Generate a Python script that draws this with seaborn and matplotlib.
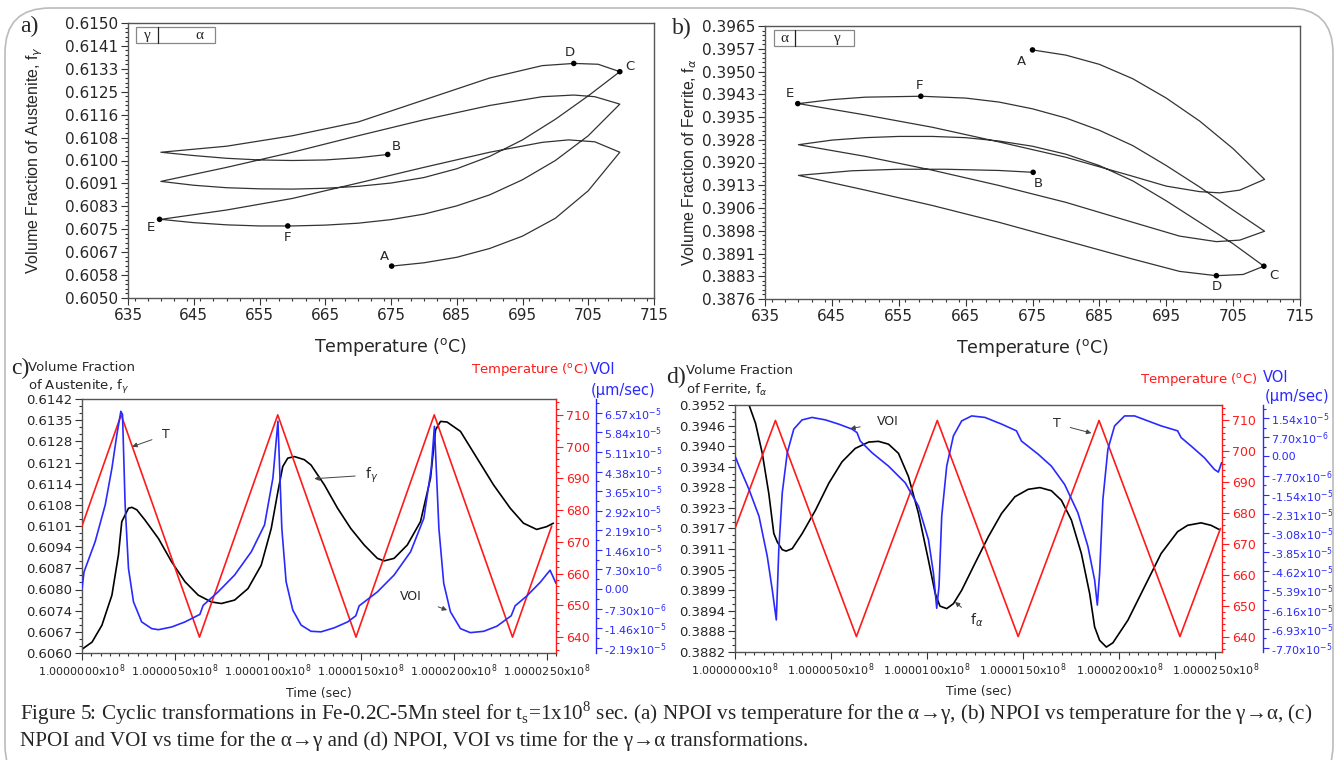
import numpy as np
import pandas as pd
import seaborn as sns
import matplotlib.pyplot as plt
from matplotlib.ticker import MultipleLocator, AutoMinorLocator
from matplotlib.patches import FancyBboxPatch, Rectangle

# ---------------- panel a : f_gamma vs temperature (one list pair per half cycle)
a_heat1_T = [675.1, 680, 685, 690, 695, 700, 705, 709.8]
a_heat1_f = [0.60616, 0.60628, 0.60648, 0.60680, 0.60725, 0.60790, 0.60890, 0.61030]
a_cool1_T = [709.8, 706, 702, 698, 690, 680, 670, 660, 650, 640]
a_cool1_f = [0.61030, 0.61068, 0.61075, 0.61066, 0.61030, 0.60975, 0.60918, 0.60862, 0.60820, 0.60786]
a_heat2_T = [640, 645, 650, 655, 660, 665, 670, 675, 680, 685, 690, 695, 700, 705, 709.8]
a_heat2_f = [0.60786, 0.60774, 0.60766, 0.60762, 0.60762, 0.60765, 0.60772, 0.60785, 0.60805,
             0.60835, 0.60875, 0.60930, 0.61000, 0.61090, 0.61205]
a_cool2_T = [709.8, 706, 702.8, 698, 690, 680, 670, 660, 650, 640]
a_cool2_f = [0.61205, 0.61232, 0.61238, 0.61232, 0.61200, 0.61148, 0.61090, 0.61030, 0.60975, 0.60924]
a_heat3_T = [640, 645, 650, 655, 660, 665, 670, 675, 680, 685, 690, 695, 700, 705, 709.8]
a_heat3_f = [0.60924, 0.60910, 0.60901, 0.60897, 0.60896, 0.60899, 0.60906, 0.60918, 0.60938,
             0.60970, 0.61015, 0.61075, 0.61150, 0.61235, 0.61323]
a_cool3_T = [709.8, 706.5, 702.8, 698, 690, 680, 670, 660, 650, 640]
a_cool3_f = [0.61323, 0.61350, 0.61353, 0.61345, 0.61300, 0.61220, 0.61140, 0.61090, 0.61052, 0.61030]
a_heat4_T = [640, 645, 650, 655, 660, 665, 670, 674.5]
a_heat4_f = [0.61030, 0.61018, 0.61008, 0.61002, 0.61000, 0.61002, 0.61010, 0.61022]
a_pt_name = ['A', 'B', 'C', 'D', 'E', 'F']
a_pt_T = [675.1, 674.5, 709.8, 702.8, 639.8, 659.3]
a_pt_f = [0.60616, 0.61022, 0.61323, 0.61353, 0.60786, 0.60762]
a_ytick_lab = ['0.6050', '0.6058', '0.6067', '0.6075', '0.6083', '0.6091', '0.6100',
               '0.6108', '0.6116', '0.6125', '0.6133', '0.6141', '0.6150']

# ---------------- panel b : f_alpha vs temperature
b_heat1_T = [675, 680, 685, 690, 695, 700, 705, 709.7]
b_heat1_f = [0.39572, 0.39555, 0.39525, 0.39478, 0.39415, 0.39340, 0.39250, 0.39150]
b_cool1_T = [709.7, 706, 703, 700, 695, 690, 680, 670, 660, 650, 640]
b_cool1_f = [0.39150, 0.39115, 0.39106, 0.39110, 0.39128, 0.39160, 0.39222, 0.39272, 0.39320, 0.39360, 0.39397]
b_heat2_T = [640, 645, 650, 658.3, 665, 670, 675, 680, 685, 690, 695, 700, 705, 709.7]
b_heat2_f = [0.39397, 0.39410, 0.39418, 0.39421, 0.39415, 0.39402, 0.39380, 0.39350, 0.39310,
             0.39260, 0.39195, 0.39125, 0.39050, 0.38981]
b_cool2_T = [709.7, 706, 702.5, 697, 690, 680, 670, 660, 650, 640]
b_cool2_f = [0.38981, 0.38952, 0.38947, 0.38965, 0.39010, 0.39075, 0.39130, 0.39180, 0.39225, 0.39263]
b_heat3_T = [640, 645, 650, 655, 660, 665, 670, 675, 680, 685, 690, 695, 700, 705, 709.6]
b_heat3_f = [0.39263, 0.39278, 0.39286, 0.39290, 0.39290, 0.39286, 0.39275, 0.39258, 0.39232,
             0.39195, 0.39145, 0.39080, 0.39010, 0.38940, 0.38867]
b_cool3_T = [709.6, 706.5, 702.5, 697, 690, 680, 670, 660, 650, 640]
b_cool3_f = [0.38867, 0.38840, 0.38836, 0.38850, 0.38890, 0.38950, 0.39010, 0.39065, 0.39115, 0.39163]
b_heat4_T = [640, 648, 655, 662, 670, 675.1]
b_heat4_f = [0.39163, 0.39178, 0.39183, 0.39183, 0.39179, 0.39173]
b_pt_name = ['A', 'B', 'C', 'D', 'E', 'F']
b_pt_T = [675.0, 675.1, 709.6, 702.5, 639.9, 658.3]
b_pt_f = [0.39572, 0.39173, 0.38867, 0.38836, 0.39397, 0.39421]
b_ytick_lab = ['0.3876', '0.3883', '0.3891', '0.3898', '0.3906', '0.3913', '0.3920',
               '0.3928', '0.3935', '0.3943', '0.3950', '0.3957', '0.3965']

# ---------------- panels c, d : time series (time = offset in units of 1e-7 x 1e8 s)
temp_time = [0, 21.05, 63.2, 105.3, 147.4, 189.5, 231.6, 252.7]
temp_vals = [675, 710, 640, 710, 640, 710, 640, 675]

c_time_f = [0, 5.4, 10.7, 16.1, 19.6, 21.4, 25.0, 26.8, 29.5, 33.9, 41.1, 48.2, 55.4, 62.5, 69.6, 75.0,
            82.1, 89.3, 96.4, 101.8, 105.4, 108.0, 110.7, 114.3, 119.6, 123.2, 130.4, 137.5, 144.6,
            151.8, 158.9, 162.5, 167.9, 175.0, 182.1, 187.5, 190.2, 192.9, 196.4, 203.6, 212.5,
            221.4, 230.4, 237.5, 244.6, 250.0, 253.6]
c_fgamma = [0.60612, 0.60635, 0.60689, 0.60786, 0.60915, 0.61022, 0.61065, 0.61068, 0.61060, 0.61027,
            0.60968, 0.60893, 0.60829, 0.60786, 0.60764, 0.60759, 0.60770, 0.60807, 0.60882, 0.61000,
            0.61119, 0.61199, 0.61226, 0.61231, 0.61221, 0.61204, 0.61140, 0.61065, 0.61000, 0.60947,
            0.60904, 0.60896, 0.60904, 0.60947, 0.61022, 0.61162, 0.61317, 0.61344, 0.61342, 0.61312,
            0.61226, 0.61140, 0.61065, 0.61017, 0.60997, 0.61006, 0.61017]
c_time_v = [0, 1.1, 7.1, 12.5, 16.1, 18.75, 20.9, 21.8, 23.2, 25.0, 27.7, 32.1, 37.5, 41.1, 48.2, 55.4,
            63.4, 65.2, 73.2, 82.1, 91.1, 98.2, 102.7, 105.4, 107.5, 109.8, 113.4, 117.9, 123.2, 128.6,
            135.7, 142.9, 147.3, 149.1, 158.9, 167.9, 176.8, 183.9, 187.9, 189.6, 192.0, 194.6, 198.2,
            203.6, 208.9, 216.1, 223.2, 230.9, 233.0, 239.3, 246.4, 251.8, 255.0]
c_voi_e5 = [0.02, 0.64, 1.77, 3.14, 4.51, 5.76, 6.63, 6.51, 3.14, 0.77, -0.48, -1.23, -1.48, -1.52,
            -1.42, -1.23, -0.95, -0.61, -0.11, 0.52, 1.39, 2.39, 4.14, 6.26, 2.26, 0.27, -0.79, -1.35,
            -1.58, -1.60, -1.45, -1.23, -1.00, -0.63, -0.11, 0.52, 1.39, 2.64, 4.51, 6.07, 2.26, 0.21,
            -0.85, -1.48, -1.63, -1.58, -1.39, -1.00, -0.63, -0.26, 0.24, 0.70, 0.21]
c_ytick_lab = ['0.6060', '0.6067', '0.6074', '0.6080', '0.6087', '0.6094', '0.6101',
               '0.6108', '0.6114', '0.6121', '0.6128', '0.6135', '0.6142']
c_voi_ticks_e5 = [6.57, 5.84, 5.11, 4.38, 3.65, 2.92, 2.19, 1.46, 0.73, 0.0, -0.73, -1.46, -2.19]
c_voi_lab = ['6.57x10$^{-5}$', '5.84x10$^{-5}$', '5.11x10$^{-5}$', '4.38x10$^{-5}$', '3.65x10$^{-5}$',
             '2.92x10$^{-5}$', '2.19x10$^{-5}$', '1.46x10$^{-5}$', '7.30x10$^{-6}$', '0.00',
             '-7.30x10$^{-6}$', '-1.46x10$^{-5}$', '-2.19x10$^{-5}$']

d_time_f = [0, 3.5, 7.3, 10.7, 14.2, 17.6, 20.2, 22.0, 24.6, 26.6, 29.8, 35.0, 41.9, 48.8, 55.7, 62.6,
            69.6, 74.7, 79.9, 85.1, 90.3, 95.5, 100.7, 104.2, 106.7, 110.2, 113.7, 118.0, 124.9, 131.8,
            138.8, 145.7, 152.6, 158.7, 164.7, 169.9, 175.1, 180.3, 184.6, 187.2, 189.8, 193.3, 196.7,
            204.5, 213.1, 221.8, 230.4, 235.6, 242.6, 247.8, 252.1]
d_falpha = [0.39572, 0.39550, 0.3952, 0.39468, 0.39383, 0.39269, 0.39156, 0.39132, 0.39110, 0.39106,
            0.39113, 0.39156, 0.39222, 0.39298, 0.39359, 0.39397, 0.39415, 0.39417, 0.39409, 0.39383,
            0.39317, 0.39213, 0.39080, 0.38986, 0.38950, 0.38943, 0.38957, 0.38995, 0.39071, 0.39146,
            0.39213, 0.39260, 0.39281, 0.39286, 0.39277, 0.39250, 0.39194, 0.39099, 0.38986, 0.38891,
            0.38853, 0.38834, 0.38846, 0.38910, 0.39004, 0.39099, 0.39161, 0.39179, 0.39186, 0.39179,
            0.39167]
d_time_v = [0, 2.1, 7.3, 12.5, 16.8, 19.4, 21.5, 22.8, 24.6, 27.2, 30.6, 34.9, 40.1, 47.1, 54.0, 60.9,
            63.5, 65.2, 71.3, 79.9, 88.6, 95.5, 100.7, 103.3, 105.0, 106.2, 107.6, 110.2, 113.7, 118.0,
            123.2, 130.1, 138.8, 146.5, 149.1, 157.8, 164.7, 171.6, 178.5, 183.7, 187.2, 188.6, 189.8,
            191.5, 194.1, 197.6, 202.8, 208.0, 214.9, 221.8, 230.4, 232.2, 237.4, 244.3, 249.5, 251.6,
            253.3]
d_voi_e5 = [0.02, -0.39, -1.33, -2.41, -4.02, -5.37, -6.58, -3.75, -1.46, 0.15, 1.10, 1.47, 1.57, 1.47,
            1.30, 1.10, 0.96, 0.62, 0.15, -0.39, -1.06, -2.00, -3.35, -4.70, -6.11, -5.23, -2.41, -0.39,
            0.83, 1.43, 1.63, 1.57, 1.30, 1.03, 0.62, 0.09, -0.39, -1.13, -2.27, -3.62, -4.97, -5.98,
            -4.70, -1.73, 0.29, 1.23, 1.63, 1.63, 1.43, 1.23, 1.03, 0.76, 0.42, -0.05, -0.52, -0.63,
            -0.25]
d_ytick_lab = ['0.3882', '0.3888', '0.3894', '0.3899', '0.3905', '0.3911', '0.3917',
               '0.3923', '0.3928', '0.3934', '0.3940', '0.3946', '0.3952']
d_voi_ticks_e5 = [1.54, 0.77, 0.0, -0.77, -1.54, -2.31, -3.08, -3.85, -4.62, -5.39, -6.16, -6.93, -7.70]
d_voi_lab = ['1.54x10$^{-5}$', '7.70x10$^{-6}$', '0.00', '-7.70x10$^{-6}$', '-1.54x10$^{-5}$',
             '-2.31x10$^{-5}$', '-3.08x10$^{-5}$', '-3.85x10$^{-5}$', '-4.62x10$^{-5}$',
             '-5.39x10$^{-5}$', '-6.16x10$^{-5}$', '-6.93x10$^{-5}$', '-7.70x10$^{-5}$']

time_ticks = [0, 50, 100, 150, 200, 250]
time_lab = ['1.0000000x10$^8$', '1.0000050x10$^8$', '1.0000100x10$^8$',
            '1.0000150x10$^8$', '1.0000200x10$^8$', '1.0000250x10$^8$']
temp_ticks = [640, 650, 660, 670, 680, 690, 700, 710]

caption1 = ("Figure 5: Cyclic transformations in Fe-0.2C-5Mn steel for t$_\\mathregular{s}$=1x10$^\\mathregular{8}$ "
            "sec. (a) NPOI vs temperature for the α→γ, (b) NPOI vs temperature for the γ→α, (c)")
caption2 = "NPOI and VOI vs time for the α→γ and (d) NPOI, VOI vs time for the γ→α transformations."

sns.set_theme(style='ticks')
plt.rcParams['font.family'] = ['DejaVu Sans']
plt.rcParams['axes.edgecolor'] = '#555555'
plt.rcParams['axes.linewidth'] = 1.0
SERIF = ['Liberation Serif', 'DejaVu Serif']
NARROW = ['Liberation Sans', 'DejaVu Sans']
RED, BLUE = '#ff1a1a', '#2a2aff'

W, H = 1338, 760
fig = plt.figure(figsize=(W / 100, H / 100), dpi=100)


def px_axes(l, t, r, b):
    return fig.add_axes([l / W, 1 - b / H, (r - l) / W, (b - t) / H])


def loop_frame(ax, lo, hi, labs, ylabel, ylab_x):
    ax.set_xlim(635, 715)
    ax.set_xticks(range(635, 716, 10))
    ax.xaxis.set_minor_locator(MultipleLocator(2))
    ax.set_ylim(lo, hi)
    ax.set_yticks(np.linspace(lo, hi, len(labs)))
    ax.set_yticklabels(labs)
    ax.yaxis.set_minor_locator(AutoMinorLocator(5))
    ax.tick_params(which='both', direction='out', color='#333333', width=0.8)
    ax.tick_params(which='major', length=5, labelsize=11, pad=2)
    ax.tick_params(which='minor', length=2.5)
    ax.set_xlabel('Temperature ($^\\mathregular{o}$C)', fontsize=12.5)
    ax.set_ylabel(ylabel, fontsize=11.5, family=NARROW)
    ax.xaxis.set_label_coords(0.5, -0.14)
    ax.yaxis.set_label_coords(ylab_x, 0.5)


def phase_box(ax, left, right):
    ax.add_patch(Rectangle((0.016, 0.926), 0.15, 0.058, transform=ax.transAxes,
                           fill=False, ec='#888888', lw=0.9))
    ax.plot([0.057, 0.057], [0.926, 0.984], transform=ax.transAxes, color='#222222', lw=0.9)
    ax.text(0.036, 0.955, left, transform=ax.transAxes, ha='center', va='center', fontsize=11, family=SERIF)
    ax.text(0.135, 0.955, right, transform=ax.transAxes, ha='center', va='center', fontsize=11, family=SERIF)


def draw_loop(ax, segs, pt_name, pt_T, pt_f, offs):
    df = pd.concat([pd.DataFrame({'T': t, 'f': f}) for t, f in segs], ignore_index=True)
    sns.lineplot(data=df, x='T', y='f', sort=False, estimator=None, color='#333333', lw=0.9, ax=ax)
    sns.scatterplot(x=pt_T, y=pt_f, color='black', s=16, edgecolor='none', ax=ax, zorder=5)
    for n, t, f, o in zip(pt_name, pt_T, pt_f, offs):
        ax.annotate(n, (t, f), xytext=o, textcoords='offset points', ha='center', va='center', fontsize=9.5)


# ---- a
ax_a = px_axes(128, 23, 654, 298)
draw_loop(ax_a, [(a_heat1_T, a_heat1_f), (a_cool1_T, a_cool1_f), (a_heat2_T, a_heat2_f),
                 (a_cool2_T, a_cool2_f), (a_heat3_T, a_heat3_f), (a_cool3_T, a_cool3_f),
                 (a_heat4_T, a_heat4_f)],
          a_pt_name, a_pt_T, a_pt_f, [(-5, 7), (6, 6), (7, 4), (-3, 8), (-6, -6), (0, -8)])
loop_frame(ax_a, 0.6050, 0.6150, a_ytick_lab, 'Volume Fraction of Austenite, f$_\\gamma$', -0.158)
phase_box(ax_a, 'γ', 'α')

# ---- b
ax_b = px_axes(765, 26, 1300, 299)
draw_loop(ax_b, [(b_heat1_T, b_heat1_f), (b_cool1_T, b_cool1_f), (b_heat2_T, b_heat2_f),
                 (b_cool2_T, b_cool2_f), (b_heat3_T, b_heat3_f), (b_cool3_T, b_cool3_f),
                 (b_heat4_T, b_heat4_f)],
          b_pt_name, b_pt_T, b_pt_f, [(-8, -8), (4, -8), (7, -7), (0, -8), (-6, 7), (-1, 8)])
loop_frame(ax_b, 0.3876, 0.3965, b_ytick_lab, 'Volume Fraction of Ferrite, f$_\\alpha$', -0.123)
phase_box(ax_b, 'α', 'γ')


# ---- c, d
def time_panel(box, xmax, t_f, f, flo, fhi, flab, t_v, v_e5, vlo, vhi, vticks, vlab):
    ax = px_axes(*box)
    axT = ax.twinx()
    axV = ax.twinx()
    sns.lineplot(x=t_f, y=f, sort=False, estimator=None, color='black', lw=1.2, ax=ax)
    sns.lineplot(x=temp_time, y=temp_vals, sort=False, estimator=None, color=RED, lw=1.2, ax=axT)
    sns.lineplot(x=t_v, y=np.array(v_e5) * 1e-5, sort=False, estimator=None, color=BLUE, lw=1.2, ax=axV)
    ax.set_xlim(0, xmax)
    ax.set_xticks(time_ticks)
    ax.set_xticklabels(time_lab)
    ax.xaxis.set_minor_locator(MultipleLocator(5))
    ax.set_ylim(flo, fhi)
    ax.set_yticks(np.linspace(flo, fhi, len(flab)))
    ax.set_yticklabels(flab)
    ax.yaxis.set_minor_locator(AutoMinorLocator(3))
    ax.set_xlabel('Time (sec)', fontsize=9)
    ax.xaxis.set_label_coords(0.5, -0.135)
    ax.set_ylabel('')
    ax.tick_params(which='both', direction='out', color='#333333', width=0.8)
    ax.tick_params(axis='y', which='major', length=5, labelsize=9.5, pad=2)
    ax.tick_params(axis='x', which='major', length=5, labelsize=8, pad=2)
    ax.tick_params(which='minor', length=2.5)
    ax.spines['right'].set_visible(False)

    axT.set_ylim(635, 715)
    axT.set_yticks(temp_ticks)
    axT.yaxis.set_minor_locator(MultipleLocator(2))
    axT.set_ylabel('')
    axT.tick_params(which='both', direction='out', color=RED, labelcolor=RED, width=0.8)
    axT.tick_params(which='major', length=5, labelsize=9, pad=2)
    axT.tick_params(which='minor', length=2.5)
    for s in ['left', 'top', 'bottom']:
        axT.spines[s].set_visible(False)
    axT.spines['right'].set_color(RED)

    axV.set_ylim(vlo * 1e-5, vhi * 1e-5)
    axV.set_yticks(np.array(vticks) * 1e-5)
    axV.set_yticklabels(vlab)
    axV.yaxis.set_minor_locator(AutoMinorLocator(2))
    axV.set_ylabel('')
    axV.spines['right'].set_position(('axes', 1.085))
    axV.tick_params(which='both', direction='out', color=BLUE, labelcolor=BLUE, width=0.8)
    axV.tick_params(which='major', length=4, labelsize=8, pad=1.5)
    axV.tick_params(which='minor', length=2.5)
    for s in ['left', 'top', 'bottom']:
        axV.spines[s].set_visible(False)
    axV.spines['right'].set_color(BLUE)
    return ax, axT, axV


arrow = dict(arrowstyle='-|>', color='#444444', lw=0.7, mutation_scale=7, shrinkA=5, shrinkB=0)

ax_c, ax_cT, ax_cV = time_panel((82, 399, 556, 653), 255, c_time_f, c_fgamma, 0.6060, 0.61416, c_ytick_lab,
                                c_time_v, c_voi_e5, -2.39, 7.09, c_voi_ticks_e5, c_voi_lab)
ax_cT.annotate('T', xy=(27, 700), xytext=(45, 703.7), fontsize=9, ha='center', va='center', arrowprops=arrow)
ax_c.annotate('f$_\\gamma$', xy=(125, 0.6116), xytext=(156, 0.61172), fontsize=10, ha='center', va='center',
              arrowprops=arrow)
ax_cV.annotate('VOI', xy=(196.4, -0.79e-5), xytext=(177, -0.29e-5), fontsize=9, ha='center', va='center',
               arrowprops=dict(arrow, shrinkA=10))

ax_d, ax_dT, ax_dV = time_panel((735, 405, 1222, 652), 253.5, d_time_f, d_falpha, 0.3882, 0.3952, d_ytick_lab,
                                d_time_v, d_voi_e5, -7.87, 2.07, d_voi_ticks_e5, d_voi_lab)
ax_dV.annotate('VOI', xy=(60, 1.12e-5), xytext=(79.6, 1.39e-5), fontsize=9, ha='center', va='center',
               arrowprops=dict(arrow, shrinkA=10))
ax_dT.annotate('T', xy=(185.5, 705.9), xytext=(167.3, 708.9), fontsize=9, ha='center', va='center',
               arrowprops=arrow)
ax_d.annotate('f$_\\alpha$', xy=(114.5, 0.38962), xytext=(125.8, 0.38910), fontsize=10, ha='center',
              va='center', arrowprops=arrow)

# ---- titles and panel letters
fig.text(20 / W, 1 - 26 / H, 'a)', fontsize=17, family=SERIF, va='center')
fig.text(672 / W, 1 - 28 / H, 'b)', fontsize=17, family=SERIF, va='center')
fig.text(11 / W, 1 - 368 / H, 'c)', fontsize=17, family=SERIF, va='center')
fig.text(666 / W, 1 - 377 / H, 'd)', fontsize=17, family=SERIF, va='center')

fig.text(28 / W, 1 - 368 / H, 'Volume Fraction', fontsize=9.5, va='center')
fig.text(28 / W, 1 - 387 / H, 'of Austenite, f$_\\gamma$', fontsize=9.5, va='center')
fig.text(588 / W, 1 - 369 / H, 'Temperature ($^\\mathregular{o}$C)', fontsize=9.5, color=RED, ha='right', va='center')
fig.text(590 / W, 1 - 369 / H, 'VOI', fontsize=10.5, color=BLUE, va='center')
fig.text(591 / W, 1 - 390 / H, '(μm/sec)', fontsize=10.5, color=BLUE, va='center')

fig.text(686 / W, 1 - 370 / H, 'Volume Fraction', fontsize=9.5, va='center')
fig.text(686 / W, 1 - 390 / H, 'of Ferrite, f$_\\alpha$', fontsize=9.5, va='center')
fig.text(1257 / W, 1 - 380 / H, 'Temperature ($^\\mathregular{o}$C)', fontsize=9.5, color=RED, ha='right', va='center')
fig.text(1263 / W, 1 - 378 / H, 'VOI', fontsize=10.5, color=BLUE, va='center')
fig.text(1265 / W, 1 - 397 / H, '(μm/sec)', fontsize=10.5, color=BLUE, va='center')

fig.text(20 / W, 1 - 713 / H, caption1, fontsize=15.2, family=SERIF, va='center')
fig.text(20 / W, 1 - 741 / H, caption2, fontsize=15.2, family=SERIF, va='center')

fig.add_artist(FancyBboxPatch((0.05, -0.3), 13.28, 7.82, boxstyle='round,pad=0,rounding_size=0.45',
                              transform=fig.dpi_scale_trans, fill=False, ec='#bbbbbb', lw=1.2))

fig.savefig('out.png', dpi=100)
